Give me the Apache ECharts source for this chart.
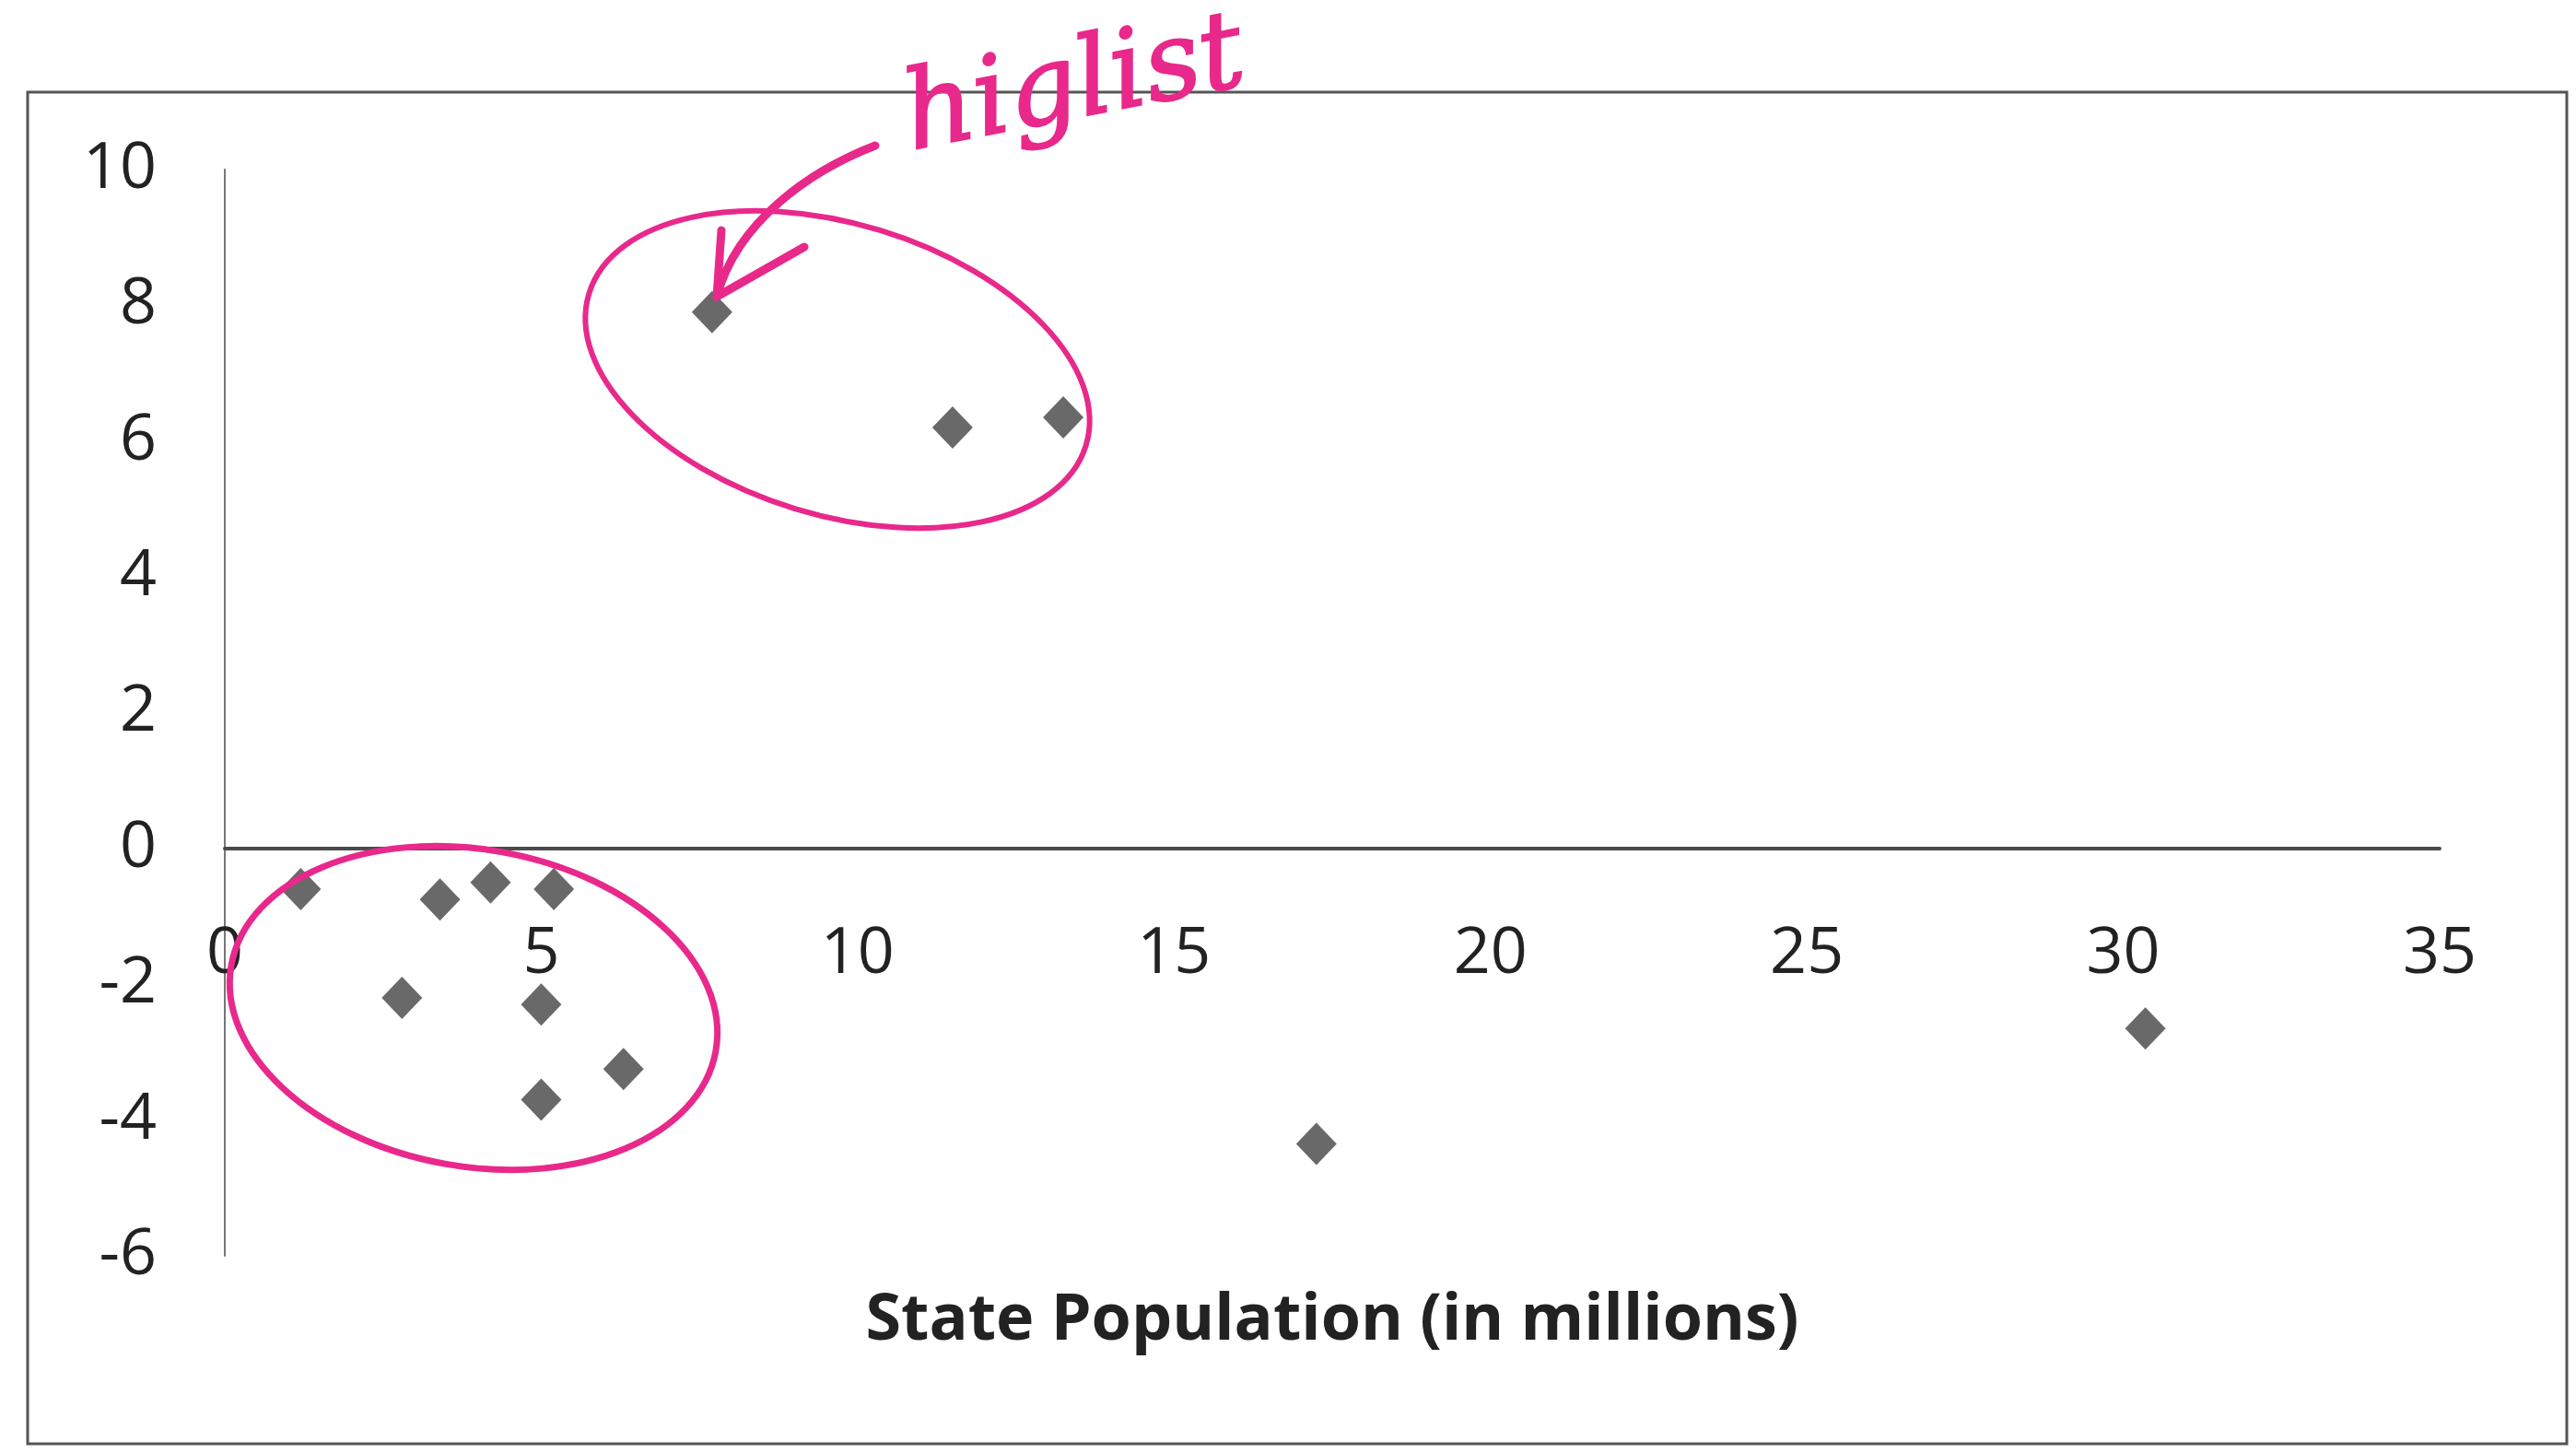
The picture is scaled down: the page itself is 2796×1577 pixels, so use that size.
<!DOCTYPE html>
<html><head><meta charset="utf-8">
<script src="https://cdn.jsdelivr.net/npm/echarts@6/dist/echarts.min.js"></script>
<style>html,body{margin:0;padding:0;background:#fff}#c{width:2796px;height:1577px}</style>
</head><body><div id="c"></div>
<script>
// State population (millions) vs. change value
const popX    = [7.7, 11.5, 13.25, 1.2, 3.4, 4.2, 5.2, 2.8, 5.0, 6.3, 5.0, 17.25, 30.35];
const changeY = [7.9, 6.2, 6.35, -0.6, -0.75, -0.5, -0.6, -2.2, -2.3, -3.25, -3.7, -4.35, -2.65];
const xTicks = [0, 5, 10, 15, 20, 25, 30, 35];
const yTicks = [-6, -4, -2, 0, 2, 4, 6, 8, 10];
const xTitle = 'State Population (in millions)';
const noteText = 'higlist';

const pink = '#e8298b';
const points = popX.map((x, i) => [x, changeY[i]]);
const deg = Math.PI / 180;

const W = 2796, H = 1577;
const G = { left: 244, right: 148, top: 184, bottom: 214 };
const yMin = yTicks[0], yMax = yTicks[yTicks.length - 1];
const plotH = H - G.top - G.bottom;
// move the horizontal axis (line, labels, title) up to the y = 0 crossing
const zeroOffset = -plotH * (0 - yMin) / (yMax - yMin);

const chart = echarts.init(document.getElementById('c'));
chart.setOption({
  backgroundColor: '#ffffff',
  animation: false,
  grid: Object.assign({ containLabel: false, outerBoundsMode: 'none' }, G),
  xAxis: {
    type: 'value',
    position: 'bottom',
    offset: zeroOffset,
    min: xTicks[0], max: xTicks[xTicks.length - 1], interval: xTicks[1] - xTicks[0],
    axisLine: { onZero: false, lineStyle: { color: '#4a4a4a', width: 4 } },
    axisTick: { show: false },
    splitLine: { show: false },
    axisLabel: { fontFamily: 'Open Sans', fontSize: 70, color: '#222', margin: 80, showMinLabel: true, showMaxLabel: true },
    name: xTitle,
    nameLocation: 'middle',
    nameGap: 478,
    nameTextStyle: { fontFamily: 'Open Sans', fontWeight: 'bold', fontSize: 70, color: '#222' }
  },
  yAxis: {
    type: 'value',
    min: yMin, max: yMax, interval: yTicks[1] - yTicks[0],
    axisLine: { show: true, onZero: false, lineStyle: { color: '#777', width: 2 } },
    axisTick: { show: false },
    splitLine: { show: false },
    axisLabel: { fontFamily: 'Open Sans', fontSize: 70, color: '#222', margin: 74, showMinLabel: true, showMaxLabel: true }
  },
  series: [{
    type: 'scatter',
    data: points,
    symbol: 'diamond',
    symbolSize: [44, 46],
    itemStyle: { color: '#444444' },
    z: 3
  }],
  graphic: [
    { type: 'rect', z: 0, silent: true,
      shape: { x: 30, y: 100, width: 2756, height: 1467 },
      style: { fill: 'none', stroke: '#555', lineWidth: 3 } },
    { type: 'ellipse', z: 10, silent: true, x: 909, y: 401, rotation: -17 * deg,
      shape: { cx: 0, cy: 0, rx: 282, ry: 158 },
      style: { fill: 'none', stroke: pink, lineWidth: 6 } },
    { type: 'ellipse', z: 10, silent: true, x: 514, y: 1094, rotation: -10 * deg,
      shape: { cx: 0, cy: 0, rx: 267, ry: 172 },
      style: { fill: 'none', stroke: pink, lineWidth: 7 } },
    { type: 'bezierCurve', z: 10, silent: true,
      shape: { x1: 950, y1: 158, cpx1: 880, cpy1: 185, cpx2: 800, cpy2: 240, x2: 778, y2: 322 },
      style: { fill: 'none', stroke: pink, lineWidth: 9, lineCap: 'round' } },
    { type: 'polyline', z: 10, silent: true,
      shape: { points: [[783, 250], [778, 322], [873, 268]] },
      style: { fill: 'none', stroke: pink, lineWidth: 9, lineCap: 'round', lineJoin: 'round' } },
    { type: 'text', z: 10, silent: true, x: 995, y: 190, rotation: 11 * deg,
      style: { text: noteText, fill: pink, font: 'italic 118px "DejaVu Serif"', textAlign: 'left', textVerticalAlign: 'bottom',
               stroke: pink, lineWidth: 2 } }
  ]
});
</script>
</body></html>
